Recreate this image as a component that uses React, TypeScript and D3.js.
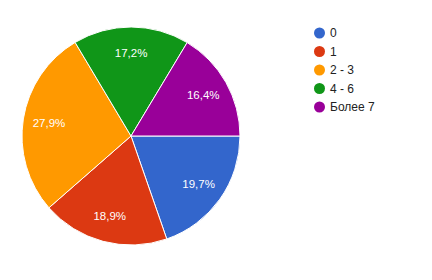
import React from "react";
import * as d3 from "d3";

const categories = ["0", "1", "2 - 3", "4 - 6", "Более 7"];
const values = [19.7, 18.9, 27.9, 17.2, 16.4];
const labels = ["19,7%", "18,9%", "27,9%", "17,2%", "16,4%"];
const colors = ["#3366cc", "#dc3912", "#ff9900", "#109618", "#990099"];

export default function App() {
  const W = 432, H = 280;
  const cx = 131, cy = 136, r = 109;
  const pie = d3.pie<number>().sort(null).startAngle(Math.PI / 2).endAngle(Math.PI / 2 + 2 * Math.PI);
  const arcs = pie(values);
  const arc = d3.arc<d3.PieArcDatum<number>>().innerRadius(0).outerRadius(r);
  const labelArc = d3.arc<d3.PieArcDatum<number>>().innerRadius(83).outerRadius(83);
  const legendY = d3.scaleLinear().domain([0, 1]).range([33, 51.5]);
  return (
    <svg width={W} height={H} style={{ position: "absolute", left: 0, top: 0, background: "#fff" }}
      fontFamily="Arial, 'Liberation Sans', sans-serif">
      <g transform={`translate(${cx},${cy})`}>
        {arcs.map((a, i) => (
          <path key={i} d={arc(a) || ""} fill={colors[i]} stroke="#fff" strokeWidth={1} />
        ))}
        {arcs.map((a, i) => {
          const [x, y] = labelArc.centroid(a);
          return (
            <text key={i} x={x} y={y} dy="0.35em" textAnchor="middle" fill="#fff" fontSize={11.5}>
              {labels[i]}
            </text>
          );
        })}
      </g>
      {categories.map((c, i) => (
        <g key={c} transform={`translate(0,${legendY(i)})`}>
          <circle cx={319.5} cy={0} r={5.5} fill={colors[i]} />
          <text x={330} y={0} dy="0.36em" fontSize={12} fill="#222">{c}</text>
        </g>
      ))}
    </svg>
  );
}
